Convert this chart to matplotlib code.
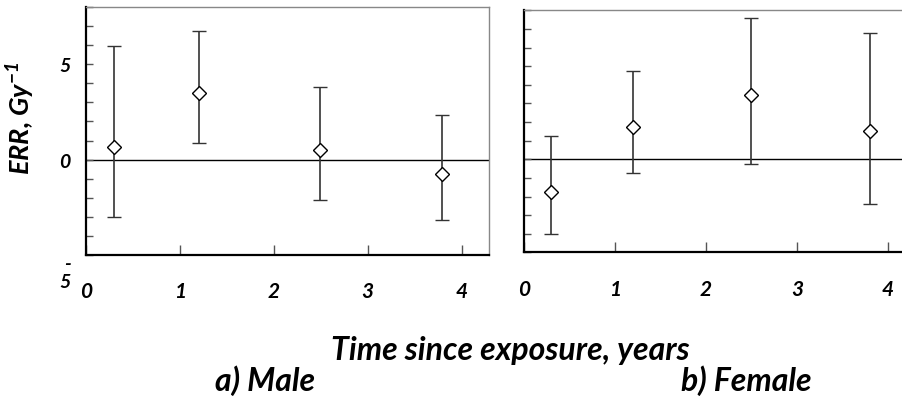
import matplotlib.pyplot as plt

# 数据：时间点、ERR 估计值及置信区间
male_x = [0.30, 1.20, 2.49, 3.79]
male_err = [0.68, 3.5, 0.5, -0.74]
male_lo = [-3.0, 0.87, -2.13, -3.16]
male_hi = [5.93, 6.72, 3.82, 2.35]

female_x = [0.30, 1.20, 2.50, 3.80]
female_err = [-1.77, 1.72, 3.44, 1.5]
female_lo = [-4.03, -0.75, -0.25, -2.4]
female_hi = [1.24, 4.73, 7.6, 6.8]

x_ticks = [0, 1, 2, 3, 4]
y_ticks = list(range(-5, 9))
y_shown = {-5: '-\n5', 0: '0', 5: '5'}

plt.rcParams['font.family'] = ['Lato', 'DejaVu Sans']
plt.rcParams['mathtext.fontset'] = 'custom'
plt.rcParams['mathtext.rm'] = 'Lato:italic:bold'
plt.rcParams['mathtext.it'] = 'Lato:italic:bold'
plt.rcParams['mathtext.bf'] = 'Lato:italic:bold'

fig = plt.figure(figsize=(9.03, 4.10), dpi=100)
ax1 = fig.add_axes([0.0952, 0.3756, 0.4463, 0.6049])
ax2 = fig.add_axes([0.5803, 0.382, 0.4197, 0.5904])


def draw_panel(ax, xs, err, lo, hi, xmax, show_labels):
    yerr = [[e - l for e, l in zip(err, lo)], [h - e for e, h in zip(err, hi)]]
    ax.axhline(0, color='black', lw=1.0, zorder=1)
    ax.errorbar(xs, err, yerr=yerr, fmt='D', ms=7, mfc='white', mec='black',
                mew=1.0, ecolor='#333333', elinewidth=1.2, capsize=5,
                capthick=1.2, zorder=3)
    ax.set_xlim(0, xmax)
    ax.set_ylim(-5, 8)
    ax.set_xticks(x_ticks)
    ax.set_yticks(y_ticks)
    ax.tick_params(axis='both', direction='in', color='#555555', width=1.0)
    ax.tick_params(axis='x', length=7, pad=19)
    ax.tick_params(axis='y', length=5, pad=11)
    for lab in ax.get_xticklabels():
        lab.set_fontweight('bold')
        lab.set_fontstyle('italic')
        lab.set_fontsize(15)
    if show_labels:
        ax.set_yticklabels([y_shown.get(t, '') for t in y_ticks])
        for lab in ax.get_yticklabels():
            lab.set_fontweight('bold')
            lab.set_fontstyle('italic')
            lab.set_fontsize(14)
            if lab.get_text().startswith('-'):
                lab.set_verticalalignment('top')
                lab.set_linespacing(1.1)
    else:
        ax.set_yticklabels([])
    for side in ('left', 'bottom'):
        ax.spines[side].set_color('black')
        ax.spines[side].set_linewidth(1.6)
    ax.spines['top'].set_color('#888888')
    ax.spines['top'].set_linewidth(1.0)
    ax.spines['right'].set_color('#888888')
    ax.spines['right'].set_linewidth(1.0)


draw_panel(ax1, male_x, male_err, male_lo, male_hi, 4.29, True)
draw_panel(ax2, female_x, female_err, female_lo, female_hi, 4.165, False)
ax2.spines['right'].set_visible(False)

ax1.set_ylabel('ERR, Gy$^{-1}$', fontsize=19.5, fontweight='bold', fontstyle='italic')
ax1.yaxis.set_label_coords(-0.122, 0.556)

fig.text(0.565, 0.146, 'Time since exposure, years', ha='center', va='center',
         fontsize=23, fontweight='bold', fontstyle='italic')
fig.text(0.293, 0.071, 'a) Male', ha='center', va='center',
         fontsize=23, fontweight='bold', fontstyle='italic')
fig.text(0.826, 0.071, 'b) Female', ha='center', va='center',
         fontsize=23, fontweight='bold', fontstyle='italic')

fig.savefig('out.png', dpi=100)
